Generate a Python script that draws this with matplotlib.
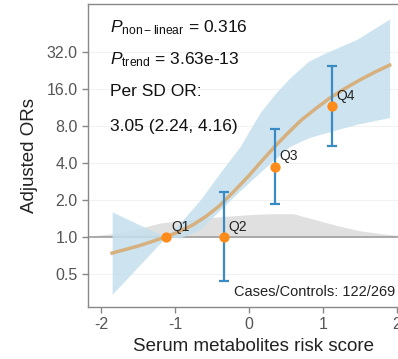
import numpy as np
import matplotlib
matplotlib.use("Agg")
import matplotlib.pyplot as plt

plt.rcParams['font.family'] = ['Liberation Sans', 'DejaVu Sans']
plt.rcParams['mathtext.fontset'] = 'custom'
plt.rcParams['mathtext.rm'] = 'Liberation Sans'
plt.rcParams['mathtext.it'] = 'Liberation Sans:italic'

# spline fit (OR scale)
fit_x = [-1.85, -1.5, -1.3, -1.12, -0.95, -0.76, -0.58, -0.4, -0.2, 0.0, 0.17, 0.35,
         0.52, 0.7, 0.9, 1.1, 1.3, 1.5, 1.7, 1.9]
fit_or = [0.737, 0.841, 0.920, 1.0, 1.10, 1.25, 1.47, 1.79, 2.36, 3.16, 4.14, 5.46,
          6.96, 8.88, 11.08, 13.64, 16.22, 19.03, 22.0, 25.1]

# confidence band
band_x = [-1.85, -1.5, -1.12, -0.93, -0.66, -0.39, -0.12, 0.15, 0.35, 0.55, 0.8, 1.0, 1.46, 1.9]
band_lo = [0.34, 0.57, 1.0, 0.98, 1.15, 1.66, 2.38, 3.36, 4.3, 5.46, 6.4, 6.96, 8.28, 9.38]
band_hi = [1.60, 1.27, 1.0, 1.30, 2.0, 3.34, 5.46, 10.3, 14.6, 19.7, 26.9, 30.9, 40.8, 59.7]

# quartile estimates
q_labels = ['Q1', 'Q2', 'Q3', 'Q4']
q_x = [-1.12, -0.34, 0.35, 1.12]
q_or = [1.0, 1.0, 3.73, 11.6]
q_lo = [1.0, 0.44, 1.86, 5.5]
q_hi = [1.0, 2.3, 7.6, 24.6]

# distribution of the score (relative density)
dens_x = [-2.1, -1.8, -1.5, -1.2, -0.8, -0.4, 0.0, 0.3, 0.6, 0.9, 1.2, 1.5, 1.8, 2.1]
dens_y = [0.05, 0.15, 0.35, 0.6, 0.74, 0.87, 0.96, 1.0, 1.0, 0.74, 0.48, 0.26, 0.13, 0.04]

yticks = [0.5, 1, 2, 4, 8, 16, 32]

fig = plt.figure(figsize=(3.98, 3.59), dpi=100)
ax = fig.add_axes([88/398, 1-307/359, 332/398, 303/359])

dens_top = 2 ** (0.625 * np.array(dens_y))
ax.fill_between(dens_x, 1, dens_top, color='#e0e0e0', lw=0, zorder=1)
ax.axhline(1, color='#a0a0a0', lw=1.2, zorder=2)
ax.fill_between(band_x, band_lo, band_hi, color='#c5e0ee', alpha=0.85, lw=0, zorder=3)
ax.plot(fit_x, fit_or, color='#d6b07e', lw=2.5, zorder=4)

lo_err = np.array(q_or) - np.array(q_lo)
hi_err = np.array(q_hi) - np.array(q_or)
ax.errorbar(q_x[1:], q_or[1:], yerr=[lo_err[1:], hi_err[1:]], fmt='none',
            ecolor='#3a8bc4', elinewidth=1.6, capsize=3.5, capthick=1.6, zorder=5)
ax.scatter(q_x, q_or, s=55, color='#ff8c1a', zorder=6, lw=0)
for lab, x, y in zip(q_labels, q_x, q_or):
    ax.annotate(lab, (x, y), xytext=(3.5, 4.5), textcoords='offset points',
                fontsize=10, color='#222222', zorder=7)

ax.set_yscale('log', base=2)
ax.set_xlim(-2.176, 2.31)
ax.set_ylim(0.268, 79)
ax.set_yticks(yticks)
ax.set_yticklabels([f'{v:.1f}' for v in yticks])
ax.set_xticks([-2, -1, 0, 1, 2])
ax.set_xticklabels(['-2', '-1', '0', '1', '2'])
ax.minorticks_off()
ax.yaxis.grid(True, color='#f2f2f2', lw=0.8)
ax.set_axisbelow(True)

for s in ax.spines.values():
    s.set_color('#888888')
    s.set_linewidth(1.0)
ax.tick_params(colors='#888888', labelcolor='#555555', labelsize=11.5, length=4, width=1)

ax.set_xlabel('Serum metabolites risk score', fontsize=13.5, color='#222222', labelpad=4)
ax.set_ylabel('Adjusted ORs', fontsize=13.5, color='#222222', labelpad=6)

tkw = dict(transform=fig.transFigure, fontsize=12.5, color='#111111', va='center', ha='left')
fig.text(110/398, 1-28/359, r'$P_{\mathrm{non-linear}}$ = 0.316', **tkw)
fig.text(110/398, 1-60/359, r'$P_{\mathrm{trend}}$ = 3.63e-13', **tkw)
fig.text(110/398, 1-92/359, 'Per SD OR:', **tkw)
fig.text(110/398, 1-126/359, '3.05 (2.24, 4.16)', **tkw)
fig.text(395/398, 1-292/359, 'Cases/Controls: 122/269', transform=fig.transFigure,
         fontsize=10.5, color='#222222', va='center', ha='right')

fig.savefig('out.png', dpi=100)
